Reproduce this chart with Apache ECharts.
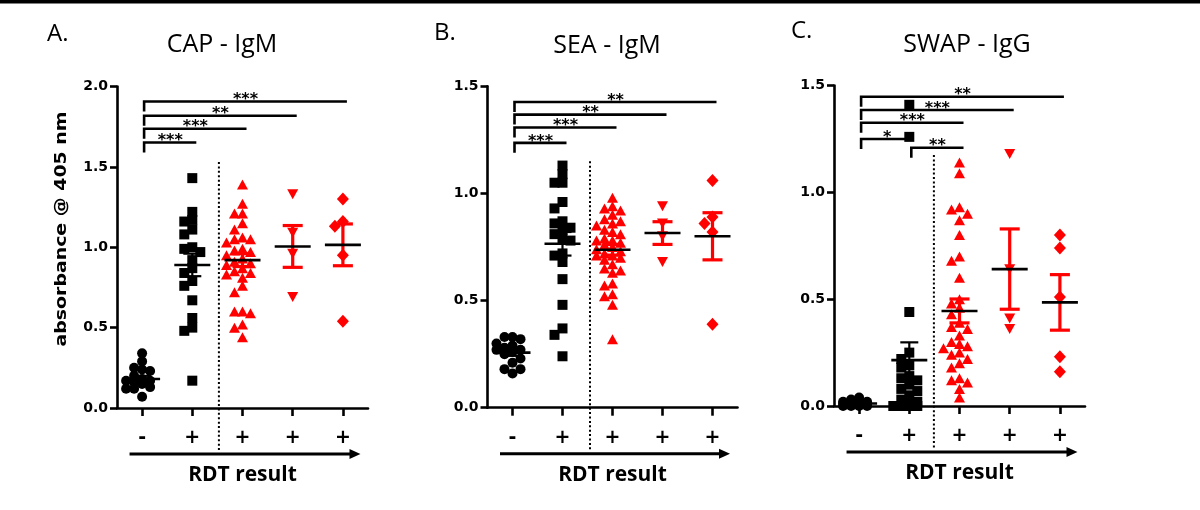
<!DOCTYPE html>
<html>
<head>
<meta charset="utf-8">
<script src="https://cdn.jsdelivr.net/npm/echarts@6/dist/echarts.min.js"></script>
<style>html,body{margin:0;padding:0;background:#fff}#c{width:1200px;height:510px}</style>
</head>
<body>
<div id="c"></div>
<script>
// ---------------- DATA ----------------
const groupLabels = ['-', '+', '+', '+', '+'];
const panelTitles = ['CAP - IgM', 'SEA - IgM', 'SWAP - IgG'];
const panelLetters = ['A.', 'B.', 'C.'];
const yAxisTitle = 'absorbance @ 405 nm';
const xAxisTitle = 'RDT result';
const yMax = [2.0, 1.5, 1.5];
const yStep = [0.5, 0.5, 0.5];

// CAP - IgM
const capNeg  = [0.34, 0.29, 0.25, 0.24, 0.23, 0.20, 0.18, 0.17, 0.17, 0.16, 0.15, 0.13, 0.12, 0.12, 0.07];
const capPos1 = [1.43, 1.22, 1.17, 1.16, 1.11, 1.08, 1.00, 0.99, 0.97, 0.92, 0.87, 0.84, 0.79, 0.76, 0.67, 0.56, 0.50, 0.48, 0.17];
const capPos2 = [1.39, 1.27, 1.21, 1.21, 1.15, 1.11, 1.06, 1.05, 1.05, 1.03, 0.99, 0.98, 0.97, 0.95, 0.93, 0.91, 0.90, 0.89, 0.87, 0.85, 0.84, 0.83, 0.81, 0.76, 0.72, 0.60, 0.60, 0.59, 0.52, 0.50, 0.44];
const capPos3 = [1.33, 1.09, 0.96, 0.69];
const capPos4 = [1.30, 1.16, 1.13, 0.95, 0.54];
const capMean = [0.18, 0.89, 0.92, 1.005, 1.015];
const capSem  = [0.02, 0.07, 0.04, 0.13, 0.13];
const capBrackets = [[0, 4, 1.907, '***'], [0, 3, 1.818, '**'], [0, 2, 1.737, '***'], [0, 1, 1.652, '***']];

// SEA - IgM
const seaNeg  = [0.33, 0.33, 0.32, 0.30, 0.29, 0.28, 0.27, 0.27, 0.26, 0.25, 0.23, 0.21, 0.18, 0.18, 0.16];
const seaPos1 = [1.13, 1.09, 1.05, 1.05, 0.96, 0.93, 0.87, 0.86, 0.84, 0.83, 0.81, 0.79, 0.78, 0.72, 0.71, 0.68, 0.60, 0.48, 0.37, 0.34, 0.24];
const seaPos2 = [0.98, 0.94, 0.93, 0.92, 0.90, 0.88, 0.87, 0.86, 0.85, 0.83, 0.82, 0.81, 0.79, 0.78, 0.78, 0.77, 0.76, 0.75, 0.74, 0.73, 0.72, 0.71, 0.71, 0.70, 0.69, 0.67, 0.65, 0.64, 0.63, 0.58, 0.57, 0.53, 0.52, 0.48, 0.32];
const seaPos3 = [0.94, 0.86, 0.80, 0.68];
const seaPos4 = [1.06, 0.89, 0.86, 0.82, 0.39];
const seaMean = [0.257, 0.765, 0.737, 0.815, 0.80];
const seaSem  = [0.015, 0.055, 0.025, 0.053, 0.11];
const seaBrackets = [[0, 4, 1.427, '**'], [0, 3, 1.368, '**'], [0, 2, 1.308, '***'], [0, 1, 1.236, '***']];

// SWAP - IgG
const swapNeg  = [0.04, 0.03, 0.02, 0.02, 0.01, 0.01, 0.01, 0.00, 0.00, 0.00, 0.01, 0.00];
const swapPos1 = [1.41, 1.26, 0.44, 0.25, 0.22, 0.19, 0.18, 0.14, 0.13, 0.12, 0.10, 0.08, 0.07, 0.05, 0.03, 0.02, 0.01, 0.00, 0.00, 0.00, 0.00];
const swapPos2 = [1.14, 1.09, 0.93, 0.92, 0.90, 0.87, 0.80, 0.70, 0.68, 0.60, 0.50, 0.48, 0.46, 0.43, 0.39, 0.37, 0.36, 0.33, 0.30, 0.29, 0.28, 0.27, 0.25, 0.24, 0.22, 0.20, 0.18, 0.13, 0.12, 0.11, 0.08, 0.04];
const swapPos3 = [1.18, 0.64, 0.41, 0.36];
const swapPos4 = [0.80, 0.74, 0.51, 0.23, 0.16];
const swapMean = [0.012, 0.215, 0.445, 0.641, 0.485];
const swapSem  = [0.004, 0.083, 0.056, 0.188, 0.13];
const swapBrackets = [[0, 4, 1.448, '**'], [0, 3, 1.386, '***'], [0, 2, 1.326, '***'], [0, 1, 1.250, '*'], [1, 2, 1.209, '**']];

// ---------------- LAYOUT / STYLE ----------------
const panels = [
  {groups: [capNeg, capPos1, capPos2, capPos3, capPos4], mean: capMean, sem: capSem, brackets: capBrackets},
  {groups: [seaNeg, seaPos1, seaPos2, seaPos3, seaPos4], mean: seaMean, sem: seaSem, brackets: seaBrackets},
  {groups: [swapNeg, swapPos1, swapPos2, swapPos3, swapPos4], mean: swapMean, sem: swapSem, brackets: swapBrackets}
];
const grids = [
  {left: 117, top: 86.5, width: 251, height: 321.5},
  {left: 487.5, top: 86.3, width: 250, height: 321.4},
  {left: 834, top: 85.6, width: 251, height: 320.4}
];
const sepX = [1.53, 1.55, 1.49];
const sepTop = [1.53, 1.15, 1.175];
const titlePos = [
  {letter: [47, 22], title: [222, 32]},
  {letter: [434, 21], title: [607, 33]},
  {letter: [791, 19], title: [967, 32]}
];
const RED = '#ff0000', BLK = '#000000';
const groupColors = [BLK, BLK, RED, RED, RED];
const groupSymbols = ['circle', 'rect', 'triangle', 'triangle', 'diamond'];
const groupSymbolSize = [10, 10, [11, 10], [11, 10], [12, 13]];
const groupSymbolRotate = [0, 0, 0, 180, 0];
const LABEL_FONT = 'DejaVu Sans';

// deterministic lane layout (Prism-like scatter dot plot)
function swarm(values, pxPerY, pxPerX) {
  const lanePx = 8, minGap = 7.5;
  const idx = values.map((v, i) => i).sort((a, b) => values[b] - values[a]);
  const placed = [];
  const out = new Array(values.length).fill(0);
  const order = [0, -1, 1, -2];
  idx.forEach(i => {
    const y = values[i] * pxPerY;
    let best = null, bestD = -1;
    for (const lane of order) {
      const ds = placed.filter(p => p.lane === lane).map(p => Math.abs(p.y - y));
      const d = ds.length ? Math.min.apply(null, ds) : Infinity;
      if (d >= minGap) { best = lane; break; }
      if (d > bestD + 0.5) { bestD = d; best = lane; }
    }
    placed.push({lane: best, y});
    out[i] = best * lanePx / pxPerX;
  });
  return out;
}

function meanRender(params, api) {
  const i = api.value(0), m = api.value(1), s = api.value(2);
  const c = api.coord([i, m]);
  const hi = api.coord([i, m + s]);
  const lo = api.coord([i, m - s]);
  const col = groupColors[i];
  const red = col === RED;
  const capW = red ? 10 : 9;
  const lw = red ? 3.2 : 2.2;
  const st = {stroke: col, lineWidth: lw};
  return {type: 'group', children: [
    {type: 'line', shape: {x1: c[0], y1: hi[1], x2: c[0], y2: lo[1]}, style: st},
    {type: 'line', shape: {x1: c[0] - capW, y1: hi[1], x2: c[0] + capW, y2: hi[1]}, style: st},
    {type: 'line', shape: {x1: c[0] - capW, y1: lo[1], x2: c[0] + capW, y2: lo[1]}, style: st},
    {type: 'line', shape: {x1: c[0] - 18, y1: c[1], x2: c[0] + 18, y2: c[1]}, style: {stroke: BLK, lineWidth: 2.6}}
  ]};
}

function makeBracketRender(list) {
  return function (params, api) {
    const b = list[params.dataIndex];
    const p0 = api.coord([api.value(0) + 0.04, api.value(2)]);
    const p1 = api.coord([api.value(1) + 0.08, api.value(2)]);
    return {type: 'group', children: [
      {type: 'polyline', shape: {points: [[p0[0], p0[1] + 10], [p0[0], p0[1]], [p1[0], p1[1]]]},
        style: {stroke: BLK, lineWidth: 2.6, fill: null}},
      {type: 'text', x: (p0[0] + p1[0]) / 2, y: p0[1] + 6.5,
        style: {text: b[3], font: 'bold 16px "' + LABEL_FONT + '"', fill: BLK, align: 'center', verticalAlign: 'bottom'}}
    ]};
  };
}

function decorRender(params, api) {
  const top = api.coord([api.value(0), api.value(1)]);
  const base = api.coord([api.value(0), 0]);
  const a0 = api.coord([-0.25, 0]);
  const a1 = api.coord([4.35, 0]);
  const ay = base[1] + 46;
  return {type: 'group', children: [
    {type: 'line', shape: {x1: top[0], y1: top[1], x2: top[0], y2: base[1] + 42},
      style: {stroke: BLK, lineWidth: 2, lineDash: [2, 2.4]}},
    {type: 'line', shape: {x1: a0[0], y1: ay, x2: a1[0] - 8, y2: ay}, style: {stroke: BLK, lineWidth: 3}},
    {type: 'polygon', shape: {points: [[a1[0], ay], [a1[0] - 11, ay - 5], [a1[0] - 11, ay + 5]]}, style: {fill: BLK}}
  ]};
}

const option = {
  animation: false,
  backgroundColor: '#ffffff',
  title: [],
  grid: grids.map(g => Object.assign({}, g)),
  xAxis: [],
  yAxis: [],
  series: [],
  graphic: [
    {type: 'rect', left: 0, top: 0, shape: {x: 0, y: 0, width: 1200, height: 3.5}, style: {fill: BLK}},
    {type: 'text', x: 62.5, y: 229, rotation: Math.PI / 2, scaleX: 1.26, scaleY: 1,
      style: {text: yAxisTitle, font: 'bold 15px "' + LABEL_FONT + '"', fill: BLK, align: 'center', verticalAlign: 'middle'}}
  ]
};

panels.forEach((p, k) => {
  const g = grids[k];
  option.title.push({text: panelLetters[k], left: titlePos[k].letter[0], top: titlePos[k].letter[1], padding: 0,
    textStyle: {fontFamily: 'Open Sans', fontWeight: 'normal', fontSize: 24, color: BLK}});
  option.title.push({text: panelTitles[k], left: titlePos[k].title[0], top: titlePos[k].title[1], textAlign: 'center', padding: 0,
    textStyle: {fontFamily: 'Open Sans', fontWeight: 'normal', fontSize: 25, color: BLK}});
  option.xAxis.push({
    type: 'value', gridIndex: k, min: -0.5, max: 4.5,
    name: xAxisTitle, nameLocation: 'middle', nameGap: 67,
    nameTextStyle: {fontFamily: 'Open Sans', fontWeight: 'bold', fontSize: 21, color: BLK, verticalAlign: 'middle'},
    axisLine: {show: true, onZero: false, lineStyle: {color: BLK, width: 2.6}},
    axisTick: {show: true, customValues: [0, 1, 2, 3, 4], length: 8, lineStyle: {color: BLK, width: 2.6}},
    axisLabel: {show: true, customValues: [0, 1, 2, 3, 4], formatter: v => groupLabels[Math.round(v)],
      margin: 30, verticalAlign: 'middle', fontFamily: LABEL_FONT, fontWeight: 'bold', fontSize: 19, color: BLK},
    splitLine: {show: false}
  });
  option.yAxis.push({
    type: 'value', gridIndex: k, min: 0, max: yMax[k], interval: yStep[k],
    axisLine: {show: true, onZero: false, lineStyle: {color: BLK, width: 2.6}},
    axisTick: {show: true, length: 7, lineStyle: {color: BLK, width: 2.6}},
    axisLabel: {show: true, margin: 9, formatter: v => v.toFixed(1), fontFamily: LABEL_FONT, fontWeight: 'bold', fontSize: 14, color: BLK},
    splitLine: {show: false}
  });
  const pxPerY = g.height / yMax[k];
  const pxPerX = g.width / 5;
  p.groups.forEach((vals, gi) => {
    const off = swarm(vals, pxPerY, pxPerX);
    option.series.push({
      type: 'scatter', xAxisIndex: k, yAxisIndex: k, clip: false, z: 2,
      symbol: groupSymbols[gi], symbolSize: groupSymbolSize[gi], symbolRotate: groupSymbolRotate[gi],
      itemStyle: {color: groupColors[gi], opacity: 1},
      emphasis: {disabled: true},
      data: vals.map((v, i) => [gi + off[i], v])
    });
  });
  option.series.push({
    type: 'custom', xAxisIndex: k, yAxisIndex: k, clip: false, z: 3,
    renderItem: meanRender,
    encode: {x: 0, y: 1},
    data: p.mean.map((m, i) => [i, m, p.sem[i]])
  });
  option.series.push({
    type: 'custom', xAxisIndex: k, yAxisIndex: k, clip: false, z: 3,
    renderItem: makeBracketRender(p.brackets),
    encode: {x: 0, y: 2},
    data: p.brackets.map(b => [b[0], b[1], b[2]])
  });
  option.series.push({
    type: 'custom', xAxisIndex: k, yAxisIndex: k, clip: false, z: 1,
    renderItem: decorRender,
    encode: {x: 0, y: 1},
    data: [[sepX[k], sepTop[k]]]
  });
});

const chart = echarts.init(document.getElementById('c'), null, {renderer: 'canvas'});
chart.setOption(option);
</script>
</body>
</html>
